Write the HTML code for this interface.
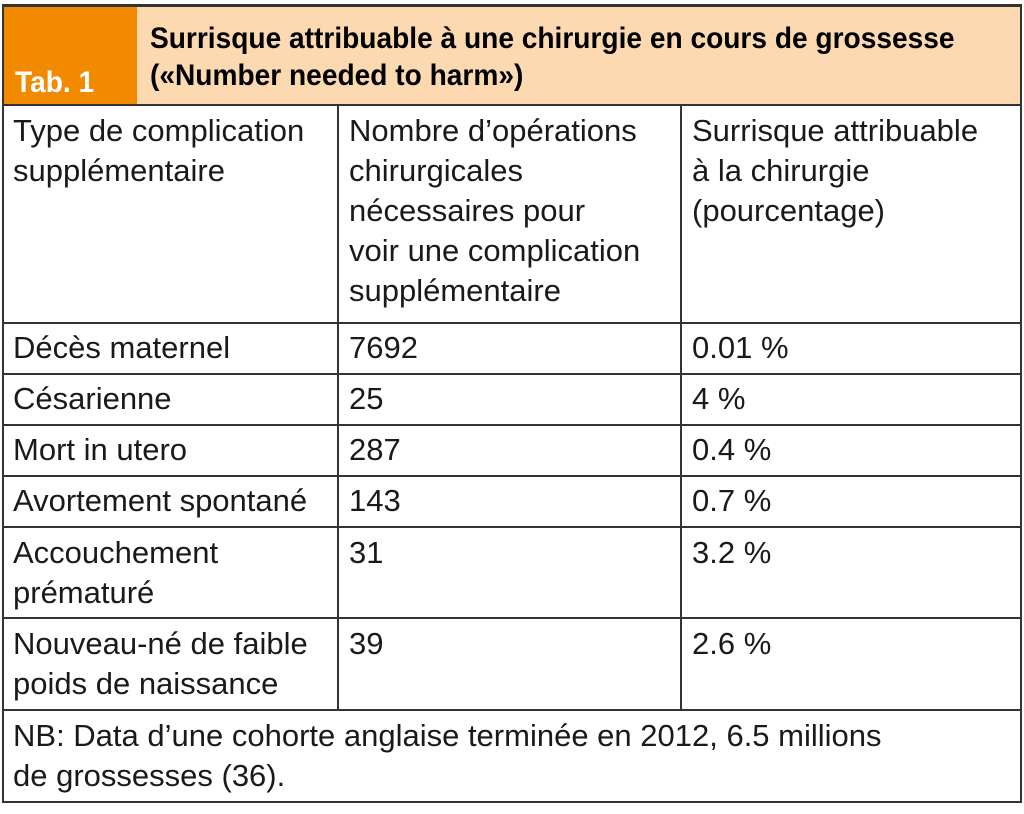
<!DOCTYPE html>
<html><head><meta charset="utf-8"><style>
body{margin:0;width:1024px;height:814px;background:#fff;position:relative;font-family:"Liberation Sans",sans-serif;color:#1a1a1a;overflow:hidden}
.a{position:absolute}
.t{position:absolute;font-size:31px;line-height:40px;white-space:nowrap}
.h{position:absolute;background:#333}
.b{font-family:'Liberation Sans',sans-serif;font-weight:bold;font-size:30px;line-height:37px;transform:scaleX(0.937);transform-origin:0 0}
</style></head><body>
<div class="a" style="left:2px;top:5px;width:1020px;height:101px;background:#fcd9b1"></div>
<div class="a" style="left:2px;top:5px;width:135px;height:101px;background:#f28a00"></div>
<div class="h" style="left:2px;top:4px;width:1020px;height:3px"></div>
<div class="h" style="left:2px;top:104px;width:1020px;height:2px"></div>
<div class="t b" style="left:15px;top:64px;color:#fff">Tab. 1</div>
<div class="t b" style="left:150px;top:20px;color:#000">Surrisque attribuable à une chirurgie en cours de grossesse<br>(«Number needed to harm»)</div>
<div class="h" style="left:2px;top:4px;width:2px;height:799px"></div>
<div class="h" style="left:1020px;top:4px;width:2px;height:799px"></div>
<div class="h" style="left:2px;top:801px;width:1020px;height:2px"></div>
<div class="h" style="left:337px;top:106px;width:2px;height:603px"></div>
<div class="h" style="left:680px;top:106px;width:2px;height:603px"></div>
<div class="h" style="left:2px;top:322px;width:1020px;height:2px"></div>
<div class="h" style="left:2px;top:373px;width:1020px;height:2px"></div>
<div class="h" style="left:2px;top:424px;width:1020px;height:2px"></div>
<div class="h" style="left:2px;top:475px;width:1020px;height:2px"></div>
<div class="h" style="left:2px;top:526px;width:1020px;height:2px"></div>
<div class="h" style="left:2px;top:617px;width:1020px;height:2px"></div>
<div class="h" style="left:2px;top:709px;width:1020px;height:2px"></div>
<div class="t" style="left:13px;top:111px">Type de complication<br>supplémentaire</div>
<div class="t" style="left:349px;top:111px">Nombre d’opérations<br>chirurgicales<br>nécessaires pour<br>voir une complication<br>supplémentaire</div>
<div class="t" style="left:692px;top:111px">Surrisque attribuable<br>à la chirurgie<br>(pourcentage)</div>
<div class="t" style="left:13px;top:328px">Décès maternel</div><div class="t" style="left:349px;top:328px">7692</div><div class="t" style="left:692px;top:328px">0.01 %</div>
<div class="t" style="left:13px;top:379px">Césarienne</div><div class="t" style="left:349px;top:379px">25</div><div class="t" style="left:692px;top:379px">4 %</div>
<div class="t" style="left:13px;top:430px">Mort in utero</div><div class="t" style="left:349px;top:430px">287</div><div class="t" style="left:692px;top:430px">0.4 %</div>
<div class="t" style="left:13px;top:481px">Avortement spontané</div><div class="t" style="left:349px;top:481px">143</div><div class="t" style="left:692px;top:481px">0.7 %</div>
<div class="t" style="left:13px;top:533px">Accouchement<br>prématuré</div><div class="t" style="left:349px;top:533px">31</div><div class="t" style="left:692px;top:533px">3.2 %</div>
<div class="t" style="left:13px;top:624px">Nouveau-né de faible<br>poids de naissance</div><div class="t" style="left:349px;top:624px">39</div><div class="t" style="left:692px;top:624px">2.6 %</div>
<div class="t" style="left:13px;top:716px">NB: Data d’une cohorte anglaise terminée en 2012, 6.5 millions<br>de grossesses (36).</div>
</body></html>
